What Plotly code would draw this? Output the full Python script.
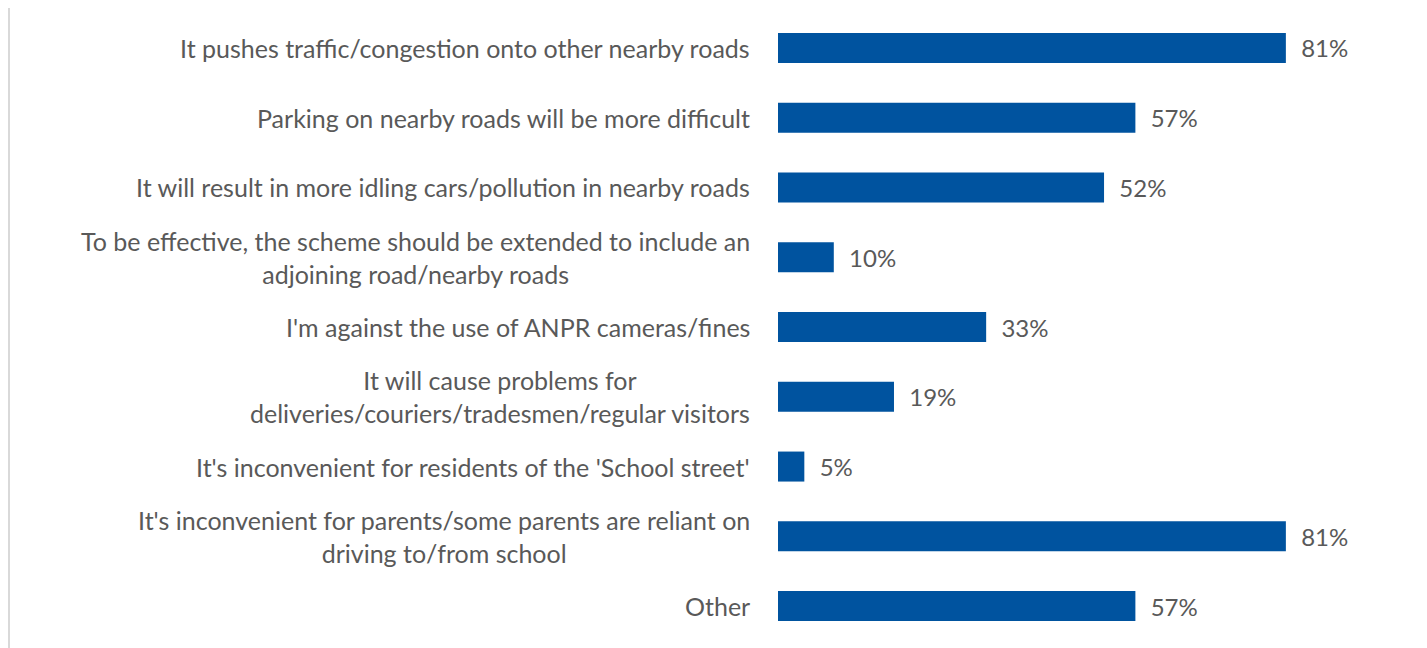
import plotly.graph_objects as go

# -----------------------------------------------------
# DATA
# -----------------------------------------------------

reasons = [
    "It pushes traffic/congestion onto other nearby roads",
    "Parking on nearby roads will be more difficult",
    "It will result in more idling cars/pollution in nearby roads",
    "To be effective, the scheme should be extended to include an<br>adjoining road/nearby roads",
    "I'm against the use of ANPR cameras/fines",
    "It will cause problems for<br>deliveries/couriers/tradesmen/regular visitors",
    "It's inconvenient for residents of the 'School street'",
    "It's inconvenient for parents/some parents are reliant on<br>driving to/from school",
    "Other",
]

# bar lengths
percent = [81, 57, 52, 8.9, 33.2, 18.5, 4.2, 81, 57]

# value labels as printed on the chart
value_labels = ["81%", "57%", "52%", "10%", "33%", "19%", "5%", "81%", "57%"]

BAR_COLOR = "#00539F"
TEXT_COLOR = "#595959"
FONT = "Lato, Open Sans, sans-serif"
FONT_SIZE = 25

# -----------------------------------------------------
# FIGURE
# -----------------------------------------------------

fig = go.Figure(
    go.Bar(
        x=percent,
        y=reasons,
        orientation="h",
        marker=dict(color=BAR_COLOR, line=dict(width=0)),
        text=["  " + v for v in value_labels],
        texttemplate="%{text}",
        textposition="outside",
        textfont=dict(size=FONT_SIZE - 1, color=TEXT_COLOR, family=FONT),
        cliponaxis=False,
        hoverinfo="skip",
    )
)

# category labels as annotations so wrapped lines stay centred
for r in reasons:
    fig.add_annotation(
        x=0,
        xref="paper",
        y=r,
        yref="y",
        text=r,
        showarrow=False,
        xanchor="right",
        yanchor="middle",
        align="center",
        xshift=-26,
        font=dict(size=FONT_SIZE, color=TEXT_COLOR, family=FONT),
    )

# thin grey frame line on the left
fig.add_shape(
    type="line",
    xref="paper",
    yref="paper",
    x0=-1.2265,
    x1=-1.2265,
    y0=-0.012,
    y1=1.01,
    line=dict(color="#D9D9D9", width=2),
)

fig.update_layout(
    width=1419,
    height=640,
    margin=dict(l=770, r=22, t=5, b=7),
    paper_bgcolor="white",
    plot_bgcolor="white",
    bargap=0.57,
    showlegend=False,
    font=dict(family=FONT, color=TEXT_COLOR),
)

fig.update_xaxes(
    range=[0, 100],
    visible=False,
)

fig.update_yaxes(
    autorange="reversed",
    showticklabels=False,
    showgrid=False,
    zeroline=False,
    showline=False,
)

fig.write_html("out.html")
